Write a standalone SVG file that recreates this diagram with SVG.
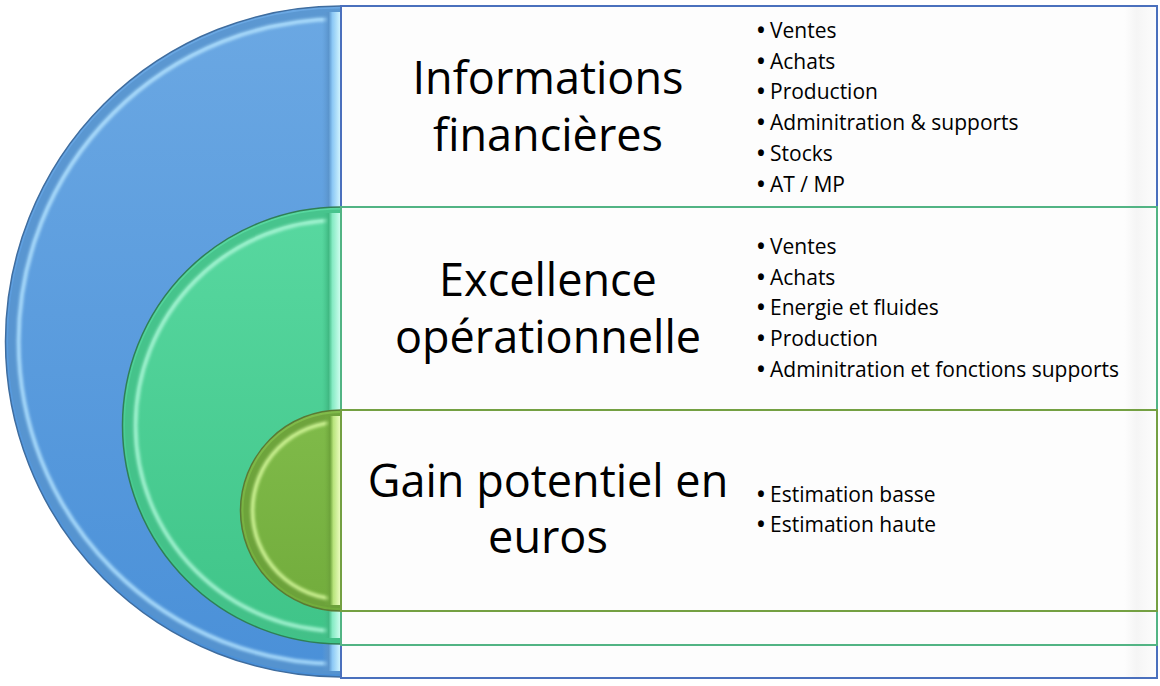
<svg xmlns="http://www.w3.org/2000/svg" width="1160" height="686" viewBox="0 0 1160 686">
  <style>
    .title { font-family: "Open Sans", "Liberation Sans", sans-serif; font-size: 45px; fill: #000; text-anchor: middle; }
    .item { font-family: "Open Sans", "Liberation Sans", sans-serif; font-size: 21px; fill: #000; }
    .dot { font-weight: 700; }
    .box { fill: url(#boxFill); stroke-width: 2; }
    .hl { fill: none; filter: url(#soft); }
  </style>
  <defs>
    <filter id="soft" x="-10%" y="-10%" width="120%" height="120%">
      <feGaussianBlur stdDeviation="1.8"/>
    </filter>
    <linearGradient id="boxFill" x1="0" y1="0" x2="1" y2="0">
      <stop offset="0" stop-color="#fdfdfd"/>
      <stop offset="0.96" stop-color="#fdfdfd"/>
      <stop offset="0.975" stop-color="#f5f5f5"/>
      <stop offset="1" stop-color="#fdfdfd"/>
    </linearGradient>
    <linearGradient id="blueFill" x1="0" y1="0" x2="0" y2="1">
      <stop offset="0" stop-color="#6ba8e3"/>
      <stop offset="1" stop-color="#4a90d8"/>
    </linearGradient>
    <linearGradient id="greenFill" x1="0" y1="0" x2="0" y2="1">
      <stop offset="0" stop-color="#58d8a0"/>
      <stop offset="1" stop-color="#3fc488"/>
    </linearGradient>
    <linearGradient id="oliveFill" x1="0" y1="0" x2="0" y2="1">
      <stop offset="0" stop-color="#80bb4a"/>
      <stop offset="1" stop-color="#72ac3c"/>
    </linearGradient>
    <linearGradient id="blueStrip" x1="0" y1="0" x2="1" y2="0">
      <stop offset="0" stop-color="#5f9ad3" stop-opacity="0"/>
      <stop offset="0.35" stop-color="#5a94cc"/>
      <stop offset="0.55" stop-color="#8cc8f5"/>
      <stop offset="1" stop-color="#d6f8ff"/>
    </linearGradient>
    <linearGradient id="greenStrip" x1="0" y1="0" x2="1" y2="0">
      <stop offset="0" stop-color="#45c48c" stop-opacity="0"/>
      <stop offset="0.35" stop-color="#40b882"/>
      <stop offset="0.55" stop-color="#86ebc4"/>
      <stop offset="1" stop-color="#d4fff2"/>
    </linearGradient>
    <linearGradient id="oliveStrip" x1="0" y1="0" x2="1" y2="0">
      <stop offset="0" stop-color="#74ae40" stop-opacity="0"/>
      <stop offset="0.35" stop-color="#6ca23a"/>
      <stop offset="0.55" stop-color="#b8e47c"/>
      <stop offset="1" stop-color="#f0ffc4"/>
    </linearGradient>
  </defs>

  <g id="node-informations">
    <path d="M341 6 A335.5 335.5 0 0 0 341 677 Z" fill="url(#blueFill)"/>
    <path d="M341 13 A328.5 328.5 0 0 0 341 670" fill="none" stroke="#5893cd" stroke-width="9" opacity="0.8"/>
    <path class="hl" d="M341 19 A322.5 322.5 0 0 0 341 664" stroke="#b8e6ff" stroke-width="4" opacity="0.85"/>
    <rect x="322" y="12" width="19" height="659" fill="url(#blueStrip)"/>
    <path d="M341 6 A335.5 335.5 0 0 0 341 677" fill="none" stroke="#3f6d9f" stroke-width="1.5"/>
    <rect class="box" x="341" y="6" width="816" height="672" stroke="#4a70bd"/>
    <text class="title" x="548" y="94">Informations</text>
    <text class="title" x="548" y="151">financières</text>
    <g class="item">
      <text x="757" y="38"><tspan class="dot">•</tspan><tspan x="770">Ventes</tspan></text>
      <text x="757" y="68.7"><tspan class="dot">•</tspan><tspan x="770">Achats</tspan></text>
      <text x="757" y="99.4"><tspan class="dot">•</tspan><tspan x="770">Production</tspan></text>
      <text x="757" y="130.1"><tspan class="dot">•</tspan><tspan x="770">Adminitration &amp; supports</tspan></text>
      <text x="757" y="160.8"><tspan class="dot">•</tspan><tspan x="770">Stocks</tspan></text>
      <text x="757" y="191.5"><tspan class="dot">•</tspan><tspan x="770">AT / MP</tspan></text>
    </g>
  </g>

  <g id="node-excellence">
    <path d="M341 207 A218.5 218.5 0 0 0 341 644 Z" fill="url(#greenFill)"/>
    <path d="M341 214 A211.5 211.5 0 0 0 341 637" fill="none" stroke="#44bf88" stroke-width="9" opacity="0.8"/>
    <path class="hl" d="M341 220 A205.5 205.5 0 0 0 341 631" stroke="#b0f8da" stroke-width="4" opacity="0.85"/>
    <rect x="322" y="213" width="19" height="425" fill="url(#greenStrip)"/>
    <path d="M341 207 A218.5 218.5 0 0 0 341 644" fill="none" stroke="#2f7f56" stroke-width="1.5"/>
    <rect class="box" x="341" y="207" width="816" height="438" stroke="#52b484"/>
    <text class="title" x="548" y="296">Excellence</text>
    <text class="title" x="548" y="353">opérationnelle</text>
    <g class="item">
      <text x="757" y="254"><tspan class="dot">•</tspan><tspan x="770">Ventes</tspan></text>
      <text x="757" y="285"><tspan class="dot">•</tspan><tspan x="770">Achats</tspan></text>
      <text x="757" y="315"><tspan class="dot">•</tspan><tspan x="770">Energie et fluides</tspan></text>
      <text x="757" y="346"><tspan class="dot">•</tspan><tspan x="770">Production</tspan></text>
      <text x="757" y="377"><tspan class="dot">•</tspan><tspan x="770">Adminitration et fonctions supports</tspan></text>
    </g>
  </g>

  <g id="node-gain">
    <path d="M341 410 A100.5 100.5 0 0 0 341 611 Z" fill="url(#oliveFill)"/>
    <path d="M341 417 A93.5 93.5 0 0 0 341 604" fill="none" stroke="#6a9f3a" stroke-width="8" opacity="0.8"/>
    <path class="hl" d="M341 422 A88.5 88.5 0 0 0 341 599" stroke="#d8fa9e" stroke-width="4" opacity="0.85"/>
    <rect x="324" y="416" width="17" height="189" fill="url(#oliveStrip)"/>
    <path d="M341 410 A100.5 100.5 0 0 0 341 611" fill="none" stroke="#5a7a34" stroke-width="1.5"/>
    <rect class="box" x="341" y="410" width="816" height="201" stroke="#74a042"/>
    <text class="title" x="548" y="497">Gain potentiel en</text>
    <text class="title" x="548" y="553">euros</text>
    <g class="item">
      <text x="757" y="502"><tspan class="dot">•</tspan><tspan x="770">Estimation basse</tspan></text>
      <text x="757" y="532"><tspan class="dot">•</tspan><tspan x="770">Estimation haute</tspan></text>
    </g>
  </g>

  <g id="connectors"/>
</svg>
